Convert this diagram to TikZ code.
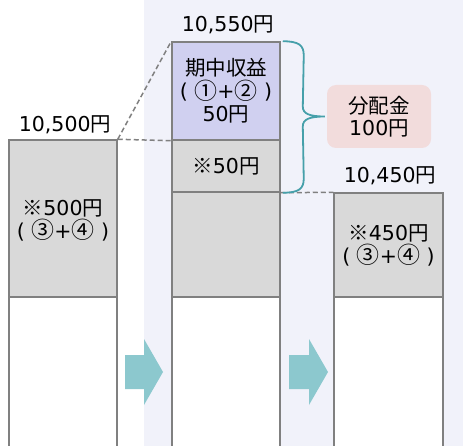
\documentclass[tikz,border=0pt]{standalone}
\usepackage{fontspec}
\setmainfont{DejaVu Sans}
\newfontfamily\jp{Noto Sans CJK JP}
\usetikzlibrary{calc}
\definecolor{panelbg}{RGB}{241,242,250}
\definecolor{barline}{RGB}{128,128,128}
\definecolor{barfill}{RGB}{217,217,217}
\definecolor{incfill}{RGB}{208,208,240}
\definecolor{distfill}{RGB}{242,220,220}
\definecolor{bracecol}{RGB}{70,160,170}
\definecolor{arrowcol}{RGB}{140,200,206}
\definecolor{dashcol}{RGB}{128,128,128}
\newcommand\yen{{\jp 円}}
\newcommand\circnum[1]{\raisebox{-0.5pt}{\scalebox{1.12}{\jp #1}}}
\begin{document}
\begin{tikzpicture}[x=1pt,y=-1pt,
  part/.style={draw=barline, line width=1.5pt, minimum width=108pt, inner sep=0pt,
    align=center, font=\fontsize{20.5}{23}\selectfont},
  txt/.style={inner sep=0pt, align=center, font=\fontsize{20.5}{23}\selectfont},
  lbl/.style={inner sep=0pt, font=\fontsize{20.5}{23}\selectfont},
  dashline/.style={draw=dashcol, line width=1.5pt, dash pattern=on 5pt off 3pt},
  brc/.style={draw=bracecol, line width=1.8pt},
  blockarrow/.style={fill=arrowcol}]
\useasboundingbox (0,0) rectangle (463,446);
\clip (0,0) rectangle (463,446);
% right-hand panel
\fill[panelbg] (144,0) rectangle (463,446);

% left bar
\node[part, fill=barfill, minimum height=157pt] (lg) at (63,218.5) {};
\node[txt] (lgt) at ($(lg)+(0,1.5)$) {{\jp ※}500\yen\\( \circnum{③}+\circnum{④} )};
\node[part, fill=white, minimum height=153pt] (lw) at (63,373.5) {};
% middle bar
\node[part, fill=incfill, minimum height=98pt] (mi) at (226,91) {{\jp 期中収益}\\( \circnum{①}+\circnum{②} )\\50\yen};
\node[part, fill=barfill, minimum height=52pt] (ms) at (226,166) {{\jp ※}50\yen};
\node[part, fill=barfill, minimum height=105pt] (mg) at (226,244.5) {};
\node[part, fill=white, minimum height=153pt] (mw) at (226,373.5) {};
% right bar
\node[part, fill=barfill, minimum height=104pt, minimum width=109pt] (rg) at (388.5,245) {{\jp ※}450\yen\\( \circnum{③}+\circnum{④} )};
\node[part, fill=white, minimum height=153pt, minimum width=109pt] (rw) at (388.5,373.5) {};

% value labels
\node[lbl] (l1) at (65,125) {10,500\yen};
\node[lbl] (l2) at (228,25) {10,550\yen};
\node[lbl] (l3) at (390,176) {10,450\yen};

\draw[dashline] (lg.north east) -- (mi.north west);
\draw[dashline] (lg.north east) -- (mi.south west);
\draw[dashline] (ms.south east) -- (rg.north west);

% distribution box
\node[fill=distfill, rounded corners=9pt, minimum width=104pt, minimum height=63pt,
  inner sep=0pt, align=center, font=\fontsize{20.5}{22}\selectfont] (dist) at (379,116.5) {{\jp 分配金}\\100\yen};

% brace
\coordinate (bt) at ([xshift=2pt]mi.north east);
\coordinate (bb) at ([xshift=2pt]ms.south east);
\coordinate (btip) at ([xshift=-2pt]dist.west);
\draw[brc] (bt) .. controls ($(bt)+(16,0)$) and ($(bt)+(21,4)$) .. ($(bt)+(21,14)$)
  -- ($(btip)+(-22,-10)$) .. controls ($(btip)+(-22,-3)$) and ($(btip)+(-16,0)$) .. (btip)
  .. controls ($(btip)+(-16,0)$) and ($(btip)+(-22,3)$) .. ($(btip)+(-22,10)$)
  -- ($(bb)+(21,-14)$) .. controls ($(bb)+(21,-4)$) and ($(bb)+(16,0)$) .. (bb);

% block arrows
\fill[blockarrow] (125,355) -- (144,355) -- (144,339) -- (163,372) -- (144,405) -- (144,389) -- (125,389) -- cycle;
\fill[blockarrow] (289,355) -- (309,355) -- (309,339) -- (328,372) -- (309,405) -- (309,389) -- (289,389) -- cycle;
\end{tikzpicture}
\end{document}
